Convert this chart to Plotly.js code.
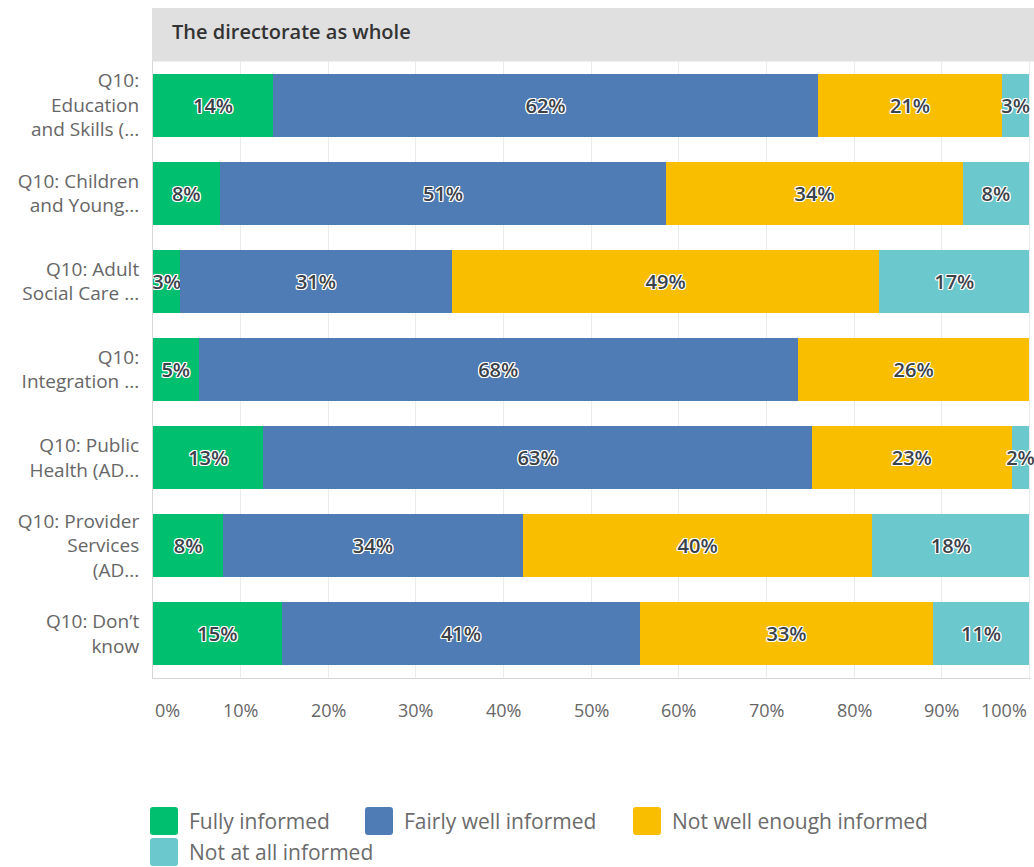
<!DOCTYPE html>
<html>
<head>
<meta charset="utf-8">
<script src="https://cdn.plot.ly/plotly-3.0.1.min.js"></script>
<style>html,body{margin:0;padding:0;background:#fff;}#chart{width:1034px;height:867px;}</style>
</head>
<body>
<div id="chart"></div>
<script>
const categories = [
  "Q10:<br>Education<br>and Skills (...",
  "Q10: Children<br>and Young...",
  "Q10: Adult<br>Social Care ...",
  "Q10:<br>Integration ...",
  "Q10: Public<br>Health (AD...",
  "Q10: Provider<br>Services<br>(AD...",
  "Q10: Don’t<br>know"
];
const seriesNames = ["Fully informed", "Fairly well informed", "Not well enough informed", "Not at all informed"];
const fullyInformed     = [13.7, 7.6, 3.1, 5.2, 12.6, 8.0, 14.7];
const fairlyWell        = [62.2, 51.0, 31.0, 68.4, 62.6, 34.2, 40.9];
const notWellEnough     = [21.0, 33.8, 48.8, 26.4, 22.8, 39.9, 33.4];
const notAtAll          = [3.1, 7.6, 17.1, 0, 2.0, 17.9, 11.0];
const colors = ["#00bf6f", "#507cb6", "#f9be00", "#6bc8cd"];
const tickVals = [0, 10, 20, 30, 40, 50, 60, 70, 80, 90, 100];
const tickLabels = ["0%", "10%", "20%", "30%", "40%", "50%", "60%", "70%", "80%", "90%", "100%"];
const headerTitle = "The directorate as whole";

const FONT = "'Open Sans', Roboto, sans-serif";
const W = 1034, H = 867;
const M = {l: 153, r: 3, t: 61, b: 189};
const PW = W - M.l - M.r, PH = H - M.t - M.b;
const px2paperX = px => (px - M.l) / PW;
const px2paperY = py => (H - M.b - py) / PH;

const seriesValues = [fullyInformed, fairlyWell, notWellEnough, notAtAll];
const halo = "-1px -1px 0 #fff, 1px -1px 0 #fff, -1px 1px 0 #fff, 1px 1px 0 #fff, 0 1px 0 #fff, 0 -1px 0 #fff, 1px 0 0 #fff, -1px 0 0 #fff";
const labelFont = {family: FONT, size: 20, color: "#3b424a", weight: 600, shadow: halo};

const traces = seriesValues.map((vals, i) => ({
  type: "bar",
  orientation: "h",
  name: seriesNames[i],
  y: categories,
  x: vals,
  marker: {color: colors[i], line: {width: 0}},
  texttemplate: vals.map(v => v > 0 ? "%{x:.0f}%" : ""),
  textposition: "inside",
  insidetextanchor: "middle",
  textangle: 0,
  constraintext: "none",
  cliponaxis: false,
  textfont: labelFont,
  insidetextfont: labelFont,
  hoverinfo: "none",
  showlegend: false
}));

const annotations = tickVals.map((v, i) => ({
  x: v, xref: "x", y: px2paperY(710), yref: "paper",
  text: tickLabels[i], showarrow: false,
  xanchor: i === 0 ? "left" : (i === tickVals.length - 1 ? "right" : "center"),
  yanchor: "middle",
  font: {family: FONT, size: 18, color: "#666"}
}));
annotations.push({
  x: px2paperX(170), xref: "paper", y: px2paperY(32), yref: "paper",
  text: headerTitle, showarrow: false,
  xanchor: "left", yanchor: "middle",
  font: {family: FONT, size: 20, color: "#333", weight: 600}
});

const shapes = [{
  type: "rect", xref: "paper", yref: "paper",
  x0: px2paperX(152), x1: px2paperX(1034), y0: px2paperY(61.5), y1: px2paperY(8),
  fillcolor: "#e0e0e0", line: {width: 0}, layer: "below"
}];

// legend (manual, to get the large rounded swatches)
const legendPos = [[150, 821], [365, 821], [633, 821], [150, 852]];
const swatchPath = "M-11,-14 H11 Q14,-14 14,-11 V11 Q14,14 11,14 H-11 Q-14,14 -14,11 V-11 Q-14,-14 -11,-14 Z";
seriesNames.forEach((name, i) => {
  const [lx, ly] = legendPos[i];
  shapes.push({
    type: "path", xref: "paper", yref: "paper",
    xsizemode: "pixel", ysizemode: "pixel",
    xanchor: px2paperX(lx + 14), yanchor: px2paperY(ly),
    path: swatchPath, fillcolor: colors[i], line: {width: 0}
  });
  annotations.push({
    x: px2paperX(lx + 37), xref: "paper", y: px2paperY(ly), yref: "paper",
    text: name, showarrow: false, xanchor: "left", yanchor: "middle",
    font: {family: FONT, size: 21, color: "#6b6b6b"}
  });
});

const layout = {
  width: W, height: H,
  margin: M,
  barmode: "stack",
  bargap: 0.285,
  paper_bgcolor: "#fff", plot_bgcolor: "#fff",
  font: {family: FONT, color: "#666"},
  showlegend: false,
  xaxis: {
    range: [0, 100.2], tickvals: tickVals, showticklabels: false,
    showgrid: true, gridcolor: "#ebebeb", gridwidth: 1,
    zeroline: false, showline: true, linecolor: "#d6d6d6", linewidth: 1,
    fixedrange: true
  },
  yaxis: {
    type: "category", autorange: "reversed",
    showgrid: false, zeroline: false, showline: true, linecolor: "#d6d6d6", linewidth: 1,
    ticks: "", ticklabelstandoff: 9,
    tickfont: {family: FONT, size: 19, color: "#666"},
    fixedrange: true
  },
  shapes: shapes,
  annotations: annotations
};

Plotly.newPlot("chart", traces, layout, {displayModeBar: false, staticPlot: true});
</script>
</body>
</html>
